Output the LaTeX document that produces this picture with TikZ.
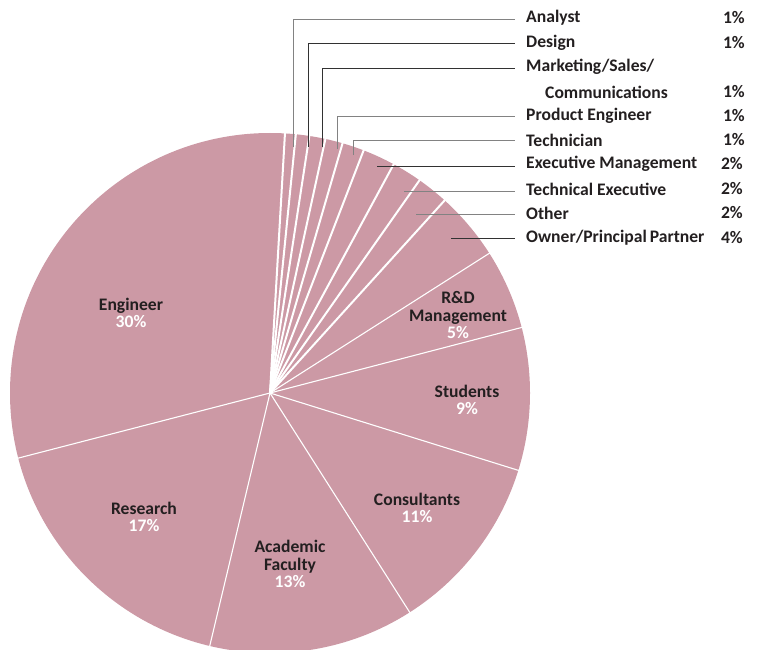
\documentclass[tikz,border=0pt]{standalone}
\usepackage{fontspec}
\setmainfont{Carlito}
\definecolor{pie}{RGB}{204,153,165}
\definecolor{txt}{RGB}{35,31,32}
\definecolor{leadg}{RGB}{130,130,130}
\definecolor{leadd}{RGB}{50,50,50}
\begin{document}
\begin{tikzpicture}[x=1pt,y=-1pt,
  lbl/.style={font=\fontsize{17.6}{17.6}\selectfont\bfseries, text=txt, inner sep=0pt, anchor=west},
  pct/.style={font=\fontsize{17.6}{17.6}\selectfont\bfseries, text=txt, inner sep=0pt, anchor=east},
  inlbl/.style={font=\fontsize{17.6}{17.5}\selectfont\bfseries, text=txt, align=center, inner sep=0pt},
  septhin/.style={white, line width=1.1pt},
  septhick/.style={white, line width=2pt},
  leadg/.style={line width=1pt, draw=leadg},
  leadd/.style={line width=1pt, draw=leadd}]
\useasboundingbox (0,0) rectangle (760,650);
\clip (0,0) rectangle (760,650);
\begin{scope}[shift={(270,393)}, y=1pt]
  \coordinate (c) at (0,0);
  \fill[pie] (c) circle (260);
  \foreach \a in {86.7,84.3,81.3,77.7,73.8,68.9,61.6,54.9,47.8}
    \draw[septhick] (c) -- (\a:262);
  \foreach \a in {32.5,14.6,-17.3,-57.5,-103.4,194.5}
    \draw[septhin] (c) -- (\a:262);
\end{scope}
% slice labels
\node[inlbl] (eng) at (131,313) {Engineer\\\textcolor{white}{30\%}};
\node[inlbl] (res) at (144,517) {Research\\\textcolor{white}{17\%}};
\node[inlbl] (aca) at (290,564) {Academic\\Faculty\\\textcolor{white}{13\%}};
\node[inlbl] (con) at (417,508) {Consultants\\\textcolor{white}{11\%}};
\node[inlbl] (stu) at (467,400) {Students\\\textcolor{white}{9\%}};
\node[inlbl] (rnd) at (458,315) {R\&D\\Management\\\textcolor{white}{5\%}};
% legend labels
\node[lbl] (l1) at (526,18) {Analyst};
\node[lbl] (l2) at (526,43) {Design};
\node[lbl] (l3) at (526,67) {Marketing/Sales/};
\node[lbl] (l3b) at (545,92) {Communications};
\node[lbl] (l4) at (526,116) {Product Engineer};
\node[lbl] (l5) at (526,140) {Technician};
\node[lbl] (l6) at (526,164) {Executive Management};
\node[lbl] (l7) at (526,189) {Technical Executive};
\node[lbl] (l8) at (526,213) {Other};
\node[lbl] (l9) at (526,238) {Owner/Principal\hspace{-1pt} Partner};
\node[pct] (p1) at (745,18) {1\%};
\node[pct] (p2) at (745,43) {1\%};
\node[pct] (p3) at (745,92) {1\%};
\node[pct] (p4) at (745,116) {1\%};
\node[pct] (p5) at (745,140) {1\%};
\node[pct] (p6) at (743,164) {2\%};
\node[pct] (p7) at (743,189) {2\%};
\node[pct] (p8) at (743,213) {2\%};
\node[pct] (p9) at (743,238) {4\%};
% leader anchors
\coordinate (a1) at (293,147);
\coordinate (a2) at (308,147);
\coordinate (a3) at (322,147);
\coordinate (a4) at (337,149);
\coordinate (a5) at (353,155);
\coordinate (a6) at (377,166);
\coordinate (a7) at (404,191);
\coordinate (a8) at (416,214);
\coordinate (a9) at (451,238);
\coordinate (e1) at (515,20);
\coordinate (e2) at (515,44);
\coordinate (e3) at (515,69);
\coordinate (e4) at (515,117);
\coordinate (e5) at (515,141);
\coordinate (e6) at (515,166);
\coordinate (e7) at (515,191);
\coordinate (e8) at (515,214);
\coordinate (e9) at (515,238);
\draw[leadg] (a1) |- (e1);
\draw[leadd] (a2) |- (e2);
\draw[leadd] (a3) |- (e3);
\draw[leadg] (a4) |- (e4);
\draw[leadg] (a5) |- (e5);
\draw[leadd] (a6) -- (e6);
\draw[leadg] (a7) -- (e7);
\draw[leadg] (a8) -- (e8);
\draw[leadd] (a9) -- (e9);
\end{tikzpicture}
\end{document}
